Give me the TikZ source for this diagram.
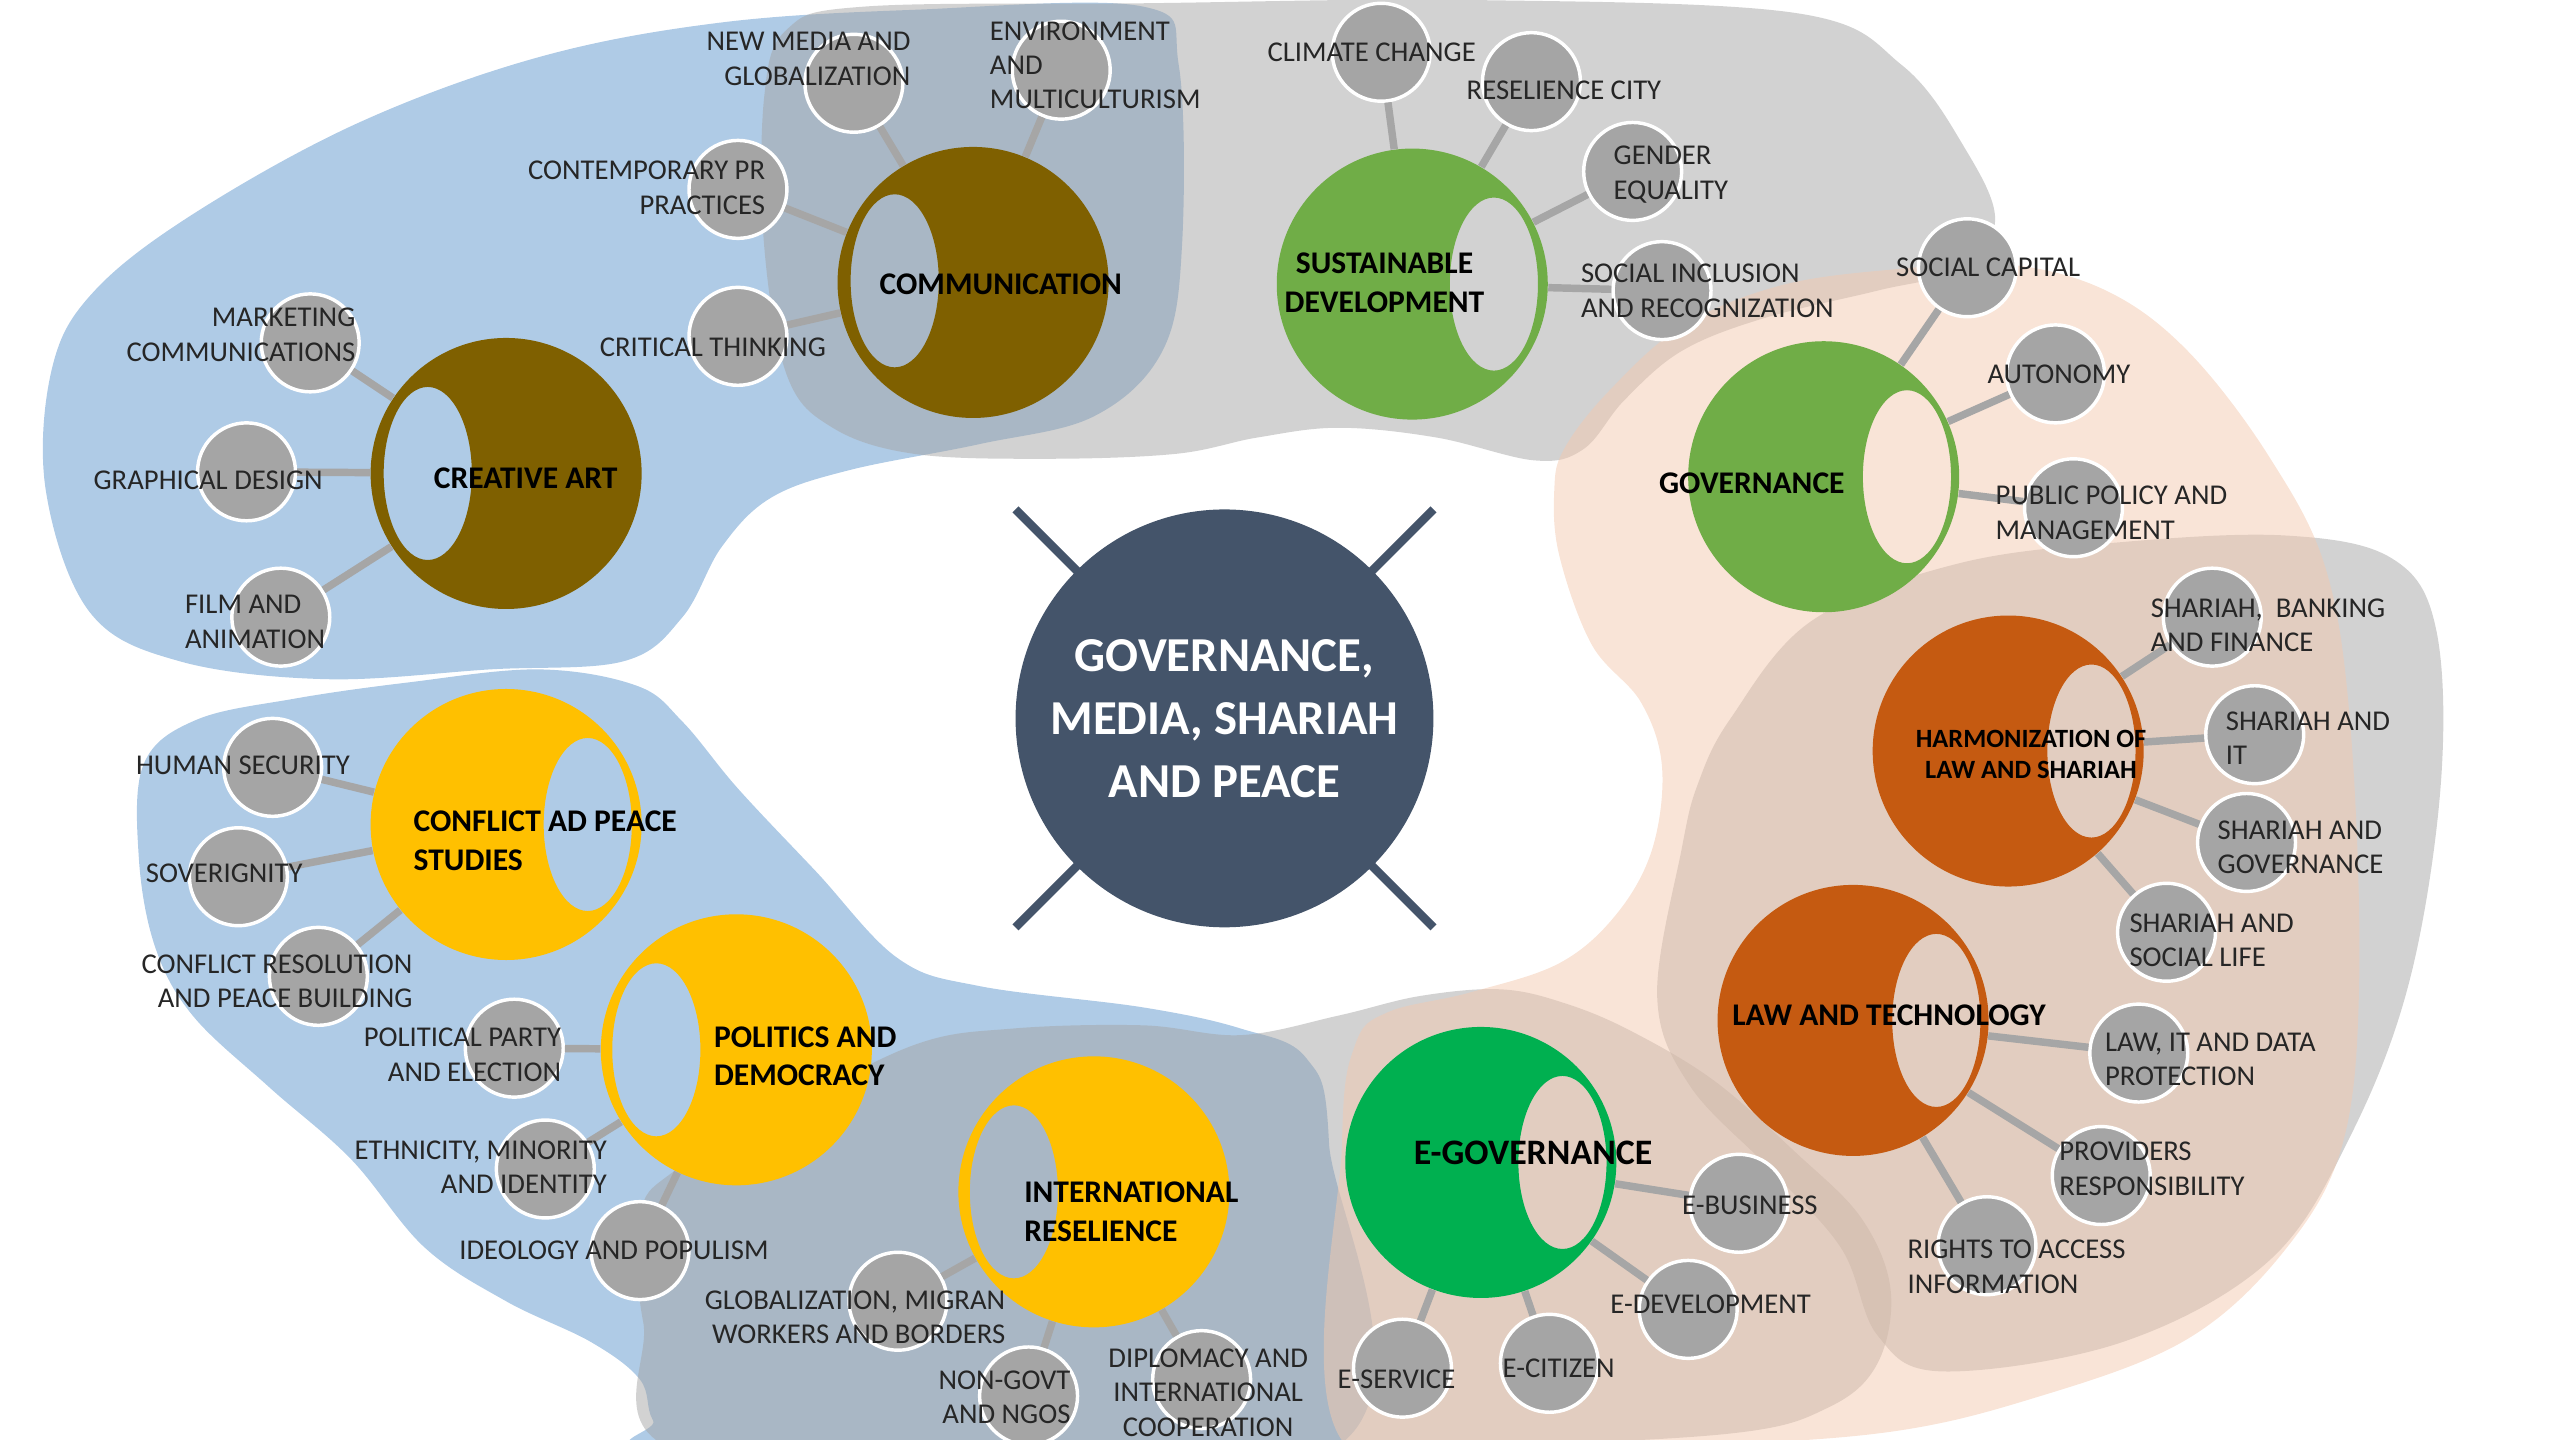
\documentclass[tikz,border=0pt]{standalone}
\usepackage{fontspec}
\setmainfont{Carlito}
\usetikzlibrary{calc}
\definecolor{bgblue}{HTML}{AFCBE6}
\definecolor{bggray}{HTML}{A5A5A5}
\definecolor{bgpeach}{HTML}{F3C9AF}
\definecolor{hubnavy}{HTML}{44546A}
\definecolor{ringbrown}{HTML}{7F6000}
\definecolor{ringgreen}{HTML}{70AD47}
\definecolor{ringegov}{HTML}{00B050}
\definecolor{ringorange}{HTML}{C55A11}
\definecolor{ringyellow}{HTML}{FFC000}
\definecolor{satgray}{HTML}{A5A5A5}
\definecolor{linkgray}{HTML}{A6A6A6}

\tikzset{
  sat/.style={circle, fill=satgray, draw=white, line width=1.2pt, minimum size=1.2cm, inner sep=0pt},
  hub/.style={circle, minimum size=3.32cm, inner sep=0pt},
  link/.style={draw=linkgray, line width=2.6pt},
  lbl/.style={font=\fontsize{10}{12}\selectfont, text=black!85, inner sep=0pt},
  hubtxt/.style={font=\fontsize{11}{13.5}\selectfont\bfseries, inner sep=0pt},
  spoke/.style={draw=hubnavy, line width=3pt},
}
\newcommand{\hubring}[3]{\fill[#1, even odd rule] (#2) circle[radius=83] (#3) ellipse[x radius=27, y radius=53];}

\begin{document}
\begin{tikzpicture}[x=0.02cm, y=-0.02cm]
    \useasboundingbox (0,0) rectangle (1568,882);

    % Background regions
    \fill[bgblue] plot[smooth cycle, tension=0.6] coordinates {(28,300) (32,225) (58,178) (120,130) (220,75) (330,35) (440,14) (560,6) (700,4) (722,40) (724,150) (712,215) (670,255) (600,272) (520,288) (472,305) (442,335) (418,378) (382,405) (300,410) (200,416) (110,405) (55,375)};
    \fill[bgblue] plot[smooth cycle, tension=0.6] coordinates {(120,441) (88,468) (85,525) (95,580) (118,622) (165,666) (215,710) (260,764) (310,797) (362,822) (392,845) (400,870) (420,890) (812,890) (814,700) (800,648) (760,630) (700,617) (600,604) (550,587) (500,534) (452,483) (418,442) (390,420) (330,410) (250,418) (180,428)};
    \fill[bggray, opacity=0.5] plot[smooth cycle, tension=0.6] coordinates {(468,60) (482,18) (530,4) (700,2) (900,0) (1100,8) (1165,40) (1203,90) (1222,135) (1200,165) (1150,178) (1080,195) (1030,215) (995,245) (970,275) (940,282) (880,268) (820,262) (770,268) (720,278) (640,281) (560,278) (510,262) (482,230) (468,150)};
    \fill[bggray, opacity=0.5] plot[smooth cycle, tension=0.6] coordinates {(1030,520) (1015,610) (1035,665) (1085,717) (1128,765) (1150,818) (1190,840) (1300,822) (1390,772) (1440,695) (1476,600) (1495,480) (1492,385) (1465,342) (1400,328) (1300,332) (1200,345) (1110,380) (1060,440) (1040,480)};
    \fill[bggray, opacity=0.5] plot[smooth cycle, tension=0.6] coordinates {(392,745) (412,718) (480,680) (560,640) (620,630) (700,628) (760,634) (820,622) (870,610) (920,606) (960,615) (1000,632) (1050,662) (1100,706) (1140,746) (1158,790) (1150,835) (1120,862) (1060,878) (900,886) (700,890) (420,890) (394,810)};
    \fill[bgpeach, opacity=0.5] plot[smooth cycle, tension=0.6] coordinates {(958,275) (985,240) (1030,200) (1090,175) (1160,165) (1230,162) (1290,178) (1340,215) (1390,280) (1425,350) (1440,450) (1445,600) (1435,700) (1400,765) (1340,820) (1250,855) (1150,878) (1000,886) (825,886) (822,700) (830,640) (850,620) (900,608) (955,590) (990,560) (1012,520) (1018,470) (1005,430) (975,395) (955,340) (952,300)};

    % Core
    \coordinate (mid) at (750,440);
    \draw[spoke] ($(mid)+(-128,-128)$) -- ($(mid)+(128,128)$);
    \draw[spoke] ($(mid)+(128,-128)$) -- ($(mid)+(-128,128)$);
    \node[circle, fill=hubnavy, minimum size=5.12cm, inner sep=0pt, text=white, align=center,
          font=\fontsize{17}{22}\selectfont\bfseries] (core) at (mid) {GOVERNANCE,\\MEDIA, SHARIAH\\AND PEACE};

    % Rings
    \hubring{ringbrown}{310,290}{262,290}
    \hubring{ringbrown}{596,173}{548,172}
    \hubring{ringgreen}{865,174}{915,174}
    \hubring{ringgreen}{1117,292}{1168,292}
    \hubring{ringorange}{1230,460}{1281,460}
    \hubring{ringorange}{1135,625}{1186,625}
    \hubring{ringegov}{907,712}{957,712}
    \hubring{ringyellow}{670,730}{621,730}
    \hubring{ringyellow}{451,643}{402,643}
    \hubring{ringyellow}{310,505}{360,505}
    \node[hub] (art) at (310,290) {};
    \node[hub] (comm) at (596,173) {};
    \node[hub] (sust) at (865,174) {};
    \node[hub] (gov) at (1117,292) {};
    \node[hub] (harm) at (1230,460) {};
    \node[hub] (lawtech) at (1135,625) {};
    \node[hub] (egov) at (907,712) {};
    \node[hub] (intl) at (670,730) {};
    \node[hub] (pol) at (451,643) {};
    \node[hub] (conf) at (310,505) {};

    % Satellites
    \node[sat] (newmedia) at (523,51) {};
    \node[sat] (environ) at (650,43) {};
    \node[sat] (prpract) at (452,116) {};
    \node[sat] (critical) at (452,206) {};
    \node[sat] (marketing) at (190,210) {};
    \node[sat] (graphic) at (151,289) {};
    \node[sat] (film) at (172,378) {};
    \node[sat] (climate) at (846,32) {};
    \node[sat] (rescity) at (938,50) {};
    \node[sat] (gender) at (1000,105) {};
    \node[sat] (inclusion) at (1018,178) {};
    \node[sat] (capital) at (1205,164) {};
    \node[sat] (autonomy) at (1259,229) {};
    \node[sat] (policy) at (1270,311) {};
    \node[sat] (banking) at (1355,378) {};
    \node[sat] (shit) at (1381,450) {};
    \node[sat] (shgov) at (1376,516) {};
    \node[sat] (shsocial) at (1327,571) {};
    \node[sat] (dataprot) at (1310,645) {};
    \node[sat] (providers) at (1287,720) {};
    \node[sat] (rights) at (1217,763) {};
    \node[sat] (ebusiness) at (1065,737) {};
    \node[sat] (edevel) at (1034,802) {};
    \node[sat] (ecitizen) at (949,835) {};
    \node[sat] (eservice) at (859,838) {};
    \node[sat] (humansec) at (167,470) {};
    \node[sat] (sovereign) at (146,537) {};
    \node[sat] (resolution) at (195,598) {};
    \node[sat] (party) at (315,642) {};
    \node[sat] (ethnicity) at (334,716) {};
    \node[sat] (ideology) at (392,766) {};
    \node[sat] (migrant) at (550,797) {};
    \node[sat] (ngos) at (630,855) {};
    \node[sat] (diplomacy) at (736,845) {};

    % Links
    \draw[link] (comm) -- (newmedia);
    \draw[link] (comm) -- (environ);
    \draw[link] (comm) -- (prpract);
    \draw[link] (comm) -- (critical);
    \draw[link] (art) -- (marketing);
    \draw[link] (art) -- (graphic);
    \draw[link] (art) -- (film);
    \draw[link] (sust) -- (climate);
    \draw[link] (sust) -- (rescity);
    \draw[link] (sust) -- (gender);
    \draw[link] (sust) -- (inclusion);
    \draw[link] (gov) -- (capital);
    \draw[link] (gov) -- (autonomy);
    \draw[link] (gov) -- (policy);
    \draw[link] (harm) -- (banking);
    \draw[link] (harm) -- (shit);
    \draw[link] (harm) -- (shgov);
    \draw[link] (harm) -- (shsocial);
    \draw[link] (lawtech) -- (dataprot);
    \draw[link] (lawtech) -- (providers);
    \draw[link] (lawtech) -- (rights);
    \draw[link] (egov) -- (ebusiness);
    \draw[link] (egov) -- (edevel);
    \draw[link] (egov) -- (ecitizen);
    \draw[link] (egov) -- (eservice);
    \draw[link] (conf) -- (humansec);
    \draw[link] (conf) -- (sovereign);
    \draw[link] (conf) -- (resolution);
    \draw[link] (pol) -- (party);
    \draw[link] (pol) -- (ethnicity);
    \draw[link] (pol) -- (ideology);
    \draw[link] (intl) -- (migrant);
    \draw[link] (intl) -- (ngos);
    \draw[link] (intl) -- (diplomacy);

    % Hub titles
    \node[hubtxt] (arttxt) at (322,293) {CREATIVE ART};
    \node[hubtxt] (commtxt) at (613,174) {COMMUNICATION};
    \node[hubtxt, align=center] (susttxt) at (848,173) {SUSTAINABLE\\DEVELOPMENT};
    \node[hubtxt] (govtxt) at (1073,296) {GOVERNANCE};
    \node[hubtxt, align=center, font=\fontsize{9.2}{11}\selectfont\bfseries] (harmtxt) at (1244,462) {HARMONIZATION OF\\LAW AND SHARIAH};
    \node[hubtxt] (lawtechtxt) at (1157,622) {LAW AND TECHNOLOGY};
    \node[hubtxt, font=\fontsize{12.5}{15}\selectfont\bfseries] (egovtxt) at (939,706) {E-GOVERNANCE};
    \node[hubtxt, align=left, anchor=west] (intltxt) at (627,742) {INTERNATIONAL\\RESELIENCE};
    \node[hubtxt, align=left, anchor=west] (poltxt) at (437,647) {POLITICS AND\\DEMOCRACY};
    \node[hubtxt, align=left, anchor=west] (conftxt) at (253,515) {CONFLICT AD PEACE\\STUDIES};

    % Satellite labels
    \node[lbl, anchor=east, align=right] (newmediatxt) at (558,36) {NEW MEDIA AND\\GLOBALIZATION};
    \node[lbl, anchor=west, align=left] (environtxt) at (606,40) {ENVIRONMENT\\AND\\MULTICULTURISM};
    \node[lbl, anchor=east, align=right] (prpracttxt) at (469,115) {CONTEMPORARY PR\\PRACTICES};
    \node[lbl, anchor=west] (criticaltxt) at (367,213) {CRITICAL THINKING};
    \node[lbl, anchor=east, align=right] (marketingtxt) at (218,205) {MARKETING\\COMMUNICATIONS};
    \node[lbl, anchor=west] (graphictxt) at (57,294) {GRAPHICAL DESIGN};
    \node[lbl, anchor=west, align=left] (filmtxt) at (113,381) {FILM AND\\ANIMATION};
    \node[lbl, anchor=west] (climatetxt) at (776,32) {CLIMATE CHANGE};
    \node[lbl, anchor=west] (rescitytxt) at (898,55) {RESELIENCE CITY};
    \node[lbl, anchor=west, align=left] (gendertxt) at (988,107) {GENDER\\EQUALITY};
    \node[lbl, anchor=west, align=left] (inclusiontxt) at (968,178) {SOCIAL INCLUSION\\AND RECOGNIZATION};
    \node[lbl, anchor=west] (capitaltxt) at (1161,164) {SOCIAL CAPITAL};
    \node[lbl, anchor=west] (autonomytxt) at (1217,229) {AUTONOMY};
    \node[lbl, anchor=west, align=left] (policytxt) at (1222,314) {PUBLIC POLICY AND\\MANAGEMENT};
    \node[lbl, anchor=west, align=left] (bankingtxt) at (1317,383) {SHARIAH,\ \ BANKING\\AND FINANCE};
    \node[lbl, anchor=west, align=left] (shittxt) at (1363,452) {SHARIAH AND\\IT};
    \node[lbl, anchor=west, align=left] (shgovtxt) at (1358,519) {SHARIAH AND\\GOVERNANCE};
    \node[lbl, anchor=west, align=left] (shsocialtxt) at (1304,576) {SHARIAH AND\\SOCIAL LIFE};
    \node[lbl, anchor=west, align=left] (dataprottxt) at (1289,649) {LAW, IT AND DATA\\PROTECTION};
    \node[lbl, anchor=west, align=left] (providerstxt) at (1261,716) {PROVIDERS\\RESPONSIBILITY};
    \node[lbl, anchor=west, align=left] (rightstxt) at (1168,776) {RIGHTS TO ACCESS\\INFORMATION};
    \node[lbl, anchor=west] (ebusinesstxt) at (1030,738) {E-BUSINESS};
    \node[lbl, anchor=west] (edeveltxt) at (986,799) {E-DEVELOPMENT};
    \node[lbl, anchor=west] (ecitizentxt) at (920,838) {E-CITIZEN};
    \node[lbl, anchor=west] (eservicetxt) at (819,845) {E-SERVICE};
    \node[lbl, anchor=west] (humansectxt) at (83,469) {HUMAN SECURITY};
    \node[lbl, anchor=west] (sovereigntxt) at (89,535) {SOVERIGNITY};
    \node[lbl, anchor=east, align=right] (resolutiontxt) at (253,601) {CONFLICT RESOLUTION\\AND PEACE BUILDING};
    \node[lbl, anchor=east, align=right] (partytxt) at (344,646) {POLITICAL PARTY\\AND ELECTION};
    \node[lbl, anchor=east, align=right] (ethnicitytxt) at (372,715) {ETHNICITY, MINORITY\\AND IDENTITY};
    \node[lbl, anchor=west] (ideologytxt) at (281,766) {IDEOLOGY AND POPULISM};
    \node[lbl, anchor=east, align=right] (migranttxt) at (616,807) {GLOBALIZATION, MIGRAN\\WORKERS AND BORDERS};
    \node[lbl, anchor=east, align=right] (ngostxt) at (656,856) {NON-GOVT\\AND NGOS};
    \node[lbl, align=center] (diplomacytxt) at (740,853) {DIPLOMACY AND\\INTERNATIONAL\\COOPERATION};
\end{tikzpicture}
\end{document}
